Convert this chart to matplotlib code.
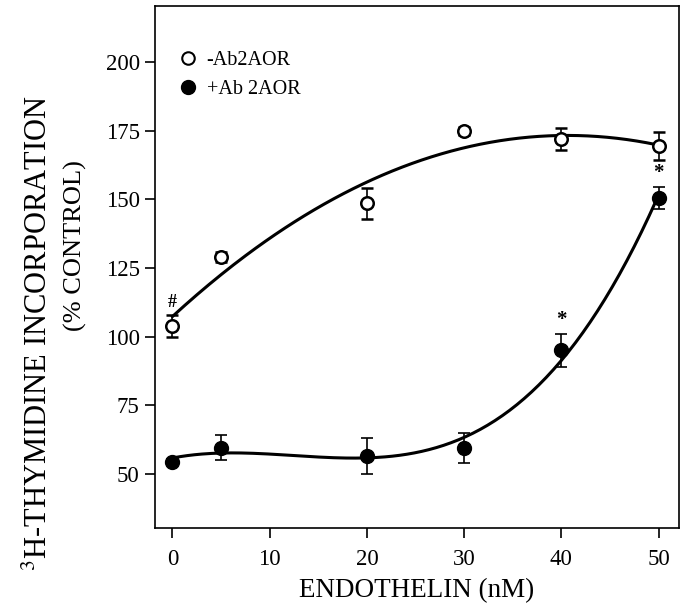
import matplotlib
matplotlib.use('Agg')
import matplotlib.pyplot as plt
from matplotlib.lines import Line2D
import numpy as np

plt.rcParams['font.family'] = ['Liberation Serif', 'DejaVu Serif']
plt.rcParams['mathtext.fontset'] = 'stix'

# endothelin concentration (nM)
dose = [0, 5, 20, 30, 40, 50]

# -Ab2AOR (open circles)
minus_ab = [104, 129, 148.5, 175, 172, 169.5]
minus_err = [4, 2, 5.5, 1.5, 4, 5]

# +Ab 2AOR (filled circles)
plus_ab = [54.5, 59.5, 56.5, 59.5, 95, 150.5]
plus_err = [1, 4.5, 6.5, 5.5, 6, 4]

xticks = [0, 10, 20, 30, 40, 50]
yticks = [50, 75, 100, 125, 150, 175, 200]

fig = plt.figure(figsize=(6.84, 6.04), dpi=100)
ax = fig.add_axes([0.2266, 0.1258, 0.7661, 0.8642])

# regression curves (polynomial fits like the original)
xs = np.linspace(0, 50, 200)
fit_minus = np.polyfit(dose, minus_ab, 2)
fit_plus = np.polyfit(dose, plus_ab, 3)
ax.plot(xs, np.polyval(fit_minus, xs), color='black', lw=2.2, zorder=2)
ax.plot(xs, np.polyval(fit_plus, xs), color='black', lw=2.2, zorder=2)

ax.errorbar(dose, minus_ab, yerr=minus_err, fmt='o', mfc='white', mec='black',
            mew=1.8, ms=9, ecolor='black', elinewidth=1.2, capsize=4.5,
            capthick=1.2, zorder=3)
ax.errorbar(dose, plus_ab, yerr=plus_err, fmt='o', mfc='black', mec='black',
            ms=10, ecolor='black', elinewidth=1.2, capsize=4.5,
            capthick=1.2, zorder=3)

# significance marks
ax.text(0, minus_ab[0] + minus_err[0] + 1.5, '#', ha='center', va='bottom',
        fontsize=13, fontweight='bold')
ax.text(40, plus_ab[4] + plus_err[4] + 1.5, '*', ha='center', va='bottom',
        fontsize=15, fontweight='bold')
ax.text(50, plus_ab[5] + plus_err[5] + 1.5, '*', ha='center', va='bottom',
        fontsize=15, fontweight='bold')

ax.set_xlim(-1.8, 52.1)
ax.set_ylim(30.3, 220.4)
ax.set_xticks(xticks)
ax.set_yticks(yticks)
ax.tick_params(direction='out', length=7, width=1.2, labelsize=16.5)
ax.tick_params(axis='x', pad=8)
ax.tick_params(axis='y', pad=4)
for s in ax.spines.values():
    s.set_linewidth(1.2)

ax.set_xlabel('ENDOTHELIN (nM)', fontsize=19.5, labelpad=6)
fig.text(0.058, 0.449, r'$^{3}$H-THYMIDINE INCORPORATION', rotation=90,
         ha='center', va='center', fontsize=22)
fig.text(0.11, 0.594, '(% CONTROL)', rotation=90, ha='center', va='center',
         fontsize=19)

handles = [Line2D([], [], marker='o', ls='none', mfc='white', mec='black',
                  mew=1.5, ms=9),
           Line2D([], [], marker='o', ls='none', mfc='black', mec='black',
                  ms=10)]
ax.legend(handles, ['-Ab2AOR', '+Ab 2AOR'], loc='upper left',
          bbox_to_anchor=(0.01, 0.948), frameon=False, fontsize=14.5,
          handlelength=1.0, handletextpad=0.4, labelspacing=0.45)

fig.savefig('out.png', dpi=100)
